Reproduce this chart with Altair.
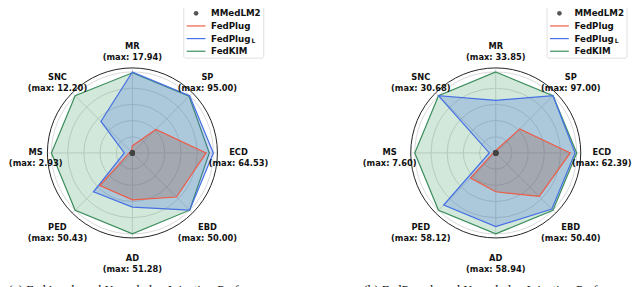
import altair as alt
import pandas as pd

# ---------------- data ----------------
axis_names = ["MR", "SP", "ECD", "EBD", "AD", "PED", "MS", "SNC"]
max_a = ["17.94", "95.00", "64.53", "50.00", "51.28", "50.43", "2.93", "12.20"]
max_b = ["33.85", "97.00", "62.39", "50.40", "58.94", "58.12", "7.60", "30.68"]

series_names = ["MMedLM2", "FedPlug", "FedPlug_L", "FedKIM"]

# normalised scores (value / max)
a_mmedlm2 = [0.0, 0.0, 0.0, 0.0, 0.0, 0.0, 0.0, 0.0]
a_fedplug = [0.09, 0.41, 0.91, 0.77, 0.58, 0.57, 0.04, 0.02]
a_fedplug_l = [1.0, 1.0, 1.0, 1.0, 0.67, 0.68, 0.10, 0.55]
a_fedkim = [0.99, 0.99, 0.95, 1.0, 1.0, 1.0, 1.0, 1.0]

b_mmedlm2 = [0.0, 0.0, 0.0, 0.0, 0.0, 0.0, 0.0, 0.0]
b_fedplug = [0.03, 0.42, 0.92, 0.76, 0.48, 0.44, 0.03, 0.02]
b_fedplug_l = [0.65, 1.0, 0.98, 0.98, 0.91, 0.91, 0.08, 1.0]
b_fedkim = [1.0, 1.0, 1.0, 1.0, 1.0, 1.0, 1.0, 1.0]

captions = ["(a) FedAvg-based Knowledge Injection Performance",
            "(b) FedProx-based Knowledge Injection Performance"]

# ---------------- layout ----------------
U = 82.0            # pixels per unit radius
W, H = 632, 279
CX0, CY0 = 126.0, 145.0
DX = 368.0
xmin = -CX0 / U
xmax = xmin + W / U
ymax = CY0 / U
ymin = ymax - H / U
panel_cx = {"a": 0.0, "b": DX / U}

XS = alt.Scale(domain=[xmin, xmax], nice=False, zero=False)
YS = alt.Scale(domain=[ymin, ymax], nice=False, zero=False)

def px(dx):
    return dx / U

line_col = {"FedPlug": "#EE5B46", "FedPlug_L": "#4670E4", "FedKIM": "#3A8D5C"}
fill_col = {"FedPlug": "#8A4632", "FedPlug_L": "#4169E1", "FedKIM": "#3A9A5E"}
fill_op = {"FedPlug": 0.25, "FedPlug_L": 0.25, "FedKIM": 0.23}

# ---------------- tables ----------------
vals = {
    "a": {"MMedLM2": a_mmedlm2, "FedPlug": a_fedplug, "FedPlug_L": a_fedplug_l, "FedKIM": a_fedkim},
    "b": {"MMedLM2": b_mmedlm2, "FedPlug": b_fedplug, "FedPlug_L": b_fedplug_l, "FedKIM": b_fedkim},
}
rows = []
for p in ["a", "b"]:
    for s in series_names:
        for i, v in enumerate(vals[p][s]):
            rows.append({"panel": p, "series": s, "i": i, "value": v, "cx": panel_cx[p]})
poly = pd.DataFrame(rows)

lab_rows = []
for p, mx in [("a", max_a), ("b", max_b)]:
    for i, (n, m) in enumerate(zip(axis_names, mx)):
        nudge = 9.5 if (p == "a" and n == "MS") else 0.0   # keep the left-most label inside the page
        lab_rows.append({"panel": p, "i": i, "cx": panel_cx[p] + nudge / U,
                         "text": f"{n}\n(max: {m})"})
labels = pd.DataFrame(lab_rows)

spokes = pd.DataFrame([{"panel": p, "i": i, "cx": panel_cx[p]} for p in ["a", "b"] for i in range(8)])
rings = pd.DataFrame([{"panel": p, "r": r, "cx": panel_cx[p]} for p in ["a", "b"] for r in [0.2, 0.4, 0.6, 0.8, 1.0]])
outer = pd.DataFrame([{"panel": p, "r": 1.05, "cx": panel_cx[p]} for p in ["a", "b"]])

polar = dict(ang="datum.i*PI/4",
             x="datum.cx + datum.value*sin(datum.ang)",
             y="datum.value*cos(datum.ang)")

X = alt.X("x:Q", scale=XS, axis=None)
Y = alt.Y("y:Q", scale=YS, axis=None)

layers = []

# grid rings
ring_layer = alt.Chart(rings).transform_calculate(
    x="datum.cx", y="0", size=f"pow(2*datum.r*{U}, 2)"
).mark_point(shape="circle", filled=False, stroke="#cfcfcf", strokeWidth=0.8, opacity=1).encode(
    x=X, y=Y, size=alt.Size("size:Q", scale=None))
layers.append(ring_layer)

spoke_layer = alt.Chart(spokes).transform_calculate(
    ang="datum.i*PI/4", x="datum.cx", y="0",
    x2="datum.cx + 1.05*sin(datum.ang)", y2="1.05*cos(datum.ang)"
).mark_rule(stroke="#cfcfcf", strokeWidth=0.8).encode(x=X, y=Y, x2="x2:Q", y2="y2:Q")
layers.append(spoke_layer)

outer_layer = alt.Chart(outer).transform_calculate(
    x="datum.cx", y="0", size=f"pow(2*datum.r*{U}, 2)"
).mark_point(shape="circle", filled=False, stroke="#222222", strokeWidth=1.0, opacity=1).encode(
    x=X, y=Y, size=alt.Size("size:Q", scale=None))
layers.append(outer_layer)

for s in ["FedKIM", "FedPlug_L", "FedPlug"]:
    base = alt.Chart(poly).transform_filter(alt.datum.series == s).transform_calculate(**polar)
    lay = base.mark_line(interpolate="linear-closed", stroke=line_col[s], strokeWidth=1.2,
                         fill=fill_col[s], fillOpacity=fill_op[s]).encode(
        x=X, y=Y, detail="panel:N", order="i:Q")
    layers.append(lay)

mmed = alt.Chart(poly).transform_filter(alt.datum.series == "MMedLM2").transform_calculate(**polar).mark_point(
    filled=True, color="#444444", size=28, opacity=0.9).encode(x=X, y=Y)
layers.append(mmed)

lab_layer = alt.Chart(labels).transform_calculate(
    ang="datum.i*PI/4", x="datum.cx + 1.31*sin(datum.ang)", y="1.31*cos(datum.ang)"
).mark_text(font="DejaVu Sans", fontWeight="bold", fontSize=8.4, lineBreak="\n", lineHeight=11,
            align="center", baseline="middle", color="#111111", dy=-1).encode(
    x=X, y=Y, text="text:N")
layers.append(lab_layer)

# ---------------- legends ----------------
leg_rows = []
for p in ["a", "b"]:
    for k, s in enumerate(series_names):
        leg_rows.append({"panel": p, "series": s, "k": k, "cx": panel_cx[p]})
leg = pd.DataFrame(leg_rows)
ROW0, ROWH = 3.6, 12.8   # canvas px of first legend row, row spacing

box = pd.DataFrame([{"panel": p, "cx": panel_cx[p]} for p in ["a", "b"]])
box_layer = alt.Chart(box).transform_calculate(
    x=f"datum.cx + {px(186-134)}", x2=f"datum.cx + {px(267-134)}",
    y=f"{ymax} + {px(9)}", y2=f"{ymax} - {px(49)}"
).mark_rect(fill="white", fillOpacity=0.85, stroke="#d8d8d8", strokeWidth=0.8, cornerRadius=2).encode(
    x=X, y=Y, x2="x2:Q", y2="y2:Q")
layers.append(box_layer)

leg_calc = dict(y=f"{ymax} - ({ROW0} + datum.k*{ROWH})/{U}")
for s in ["FedPlug", "FedPlug_L", "FedKIM"]:
    l = alt.Chart(leg).transform_filter(alt.datum.series == s).transform_calculate(
        x=f"datum.cx + {px(189-134)}", x2=f"datum.cx + {px(208-134)}", **leg_calc
    ).mark_rule(stroke=line_col[s], strokeWidth=1.2).encode(x=X, y=Y, x2="x2:Q")
    layers.append(l)
dot = alt.Chart(leg).transform_filter(alt.datum.series == "MMedLM2").transform_calculate(
    x=f"datum.cx + {px(198.5-134)}", **leg_calc
).mark_point(filled=True, color="#444444", size=22, opacity=0.9).encode(x=X, y=Y)
layers.append(dot)

leg_text = alt.Chart(leg).transform_calculate(
    x=f"datum.cx + {px(213.7-134)}", **leg_calc,
    t="datum.series == 'FedPlug_L' ? 'FedPlug' : datum.series"
).mark_text(font="DejaVu Sans", fontWeight="bold", fontSize=8.8, align="left", baseline="middle",
            color="#111111").encode(x=X, y=Y, text="t:N")
layers.append(leg_text)

sub_text = alt.Chart(leg).transform_filter(alt.datum.series == "FedPlug_L").transform_calculate(
    x=f"datum.cx + {px(254.5-134)}", **leg_calc, t="'L'"
).mark_text(font="DejaVu Sans", fontWeight="bold", fontSize=6.2, align="left", baseline="middle",
            color="#111111", dy=2.5).encode(x=X, y=Y, text="t:N")
layers.append(sub_text)

# ---------------- captions ----------------
cap = pd.DataFrame({"panel": ["a", "b"],
                    "x0": [panel_cx["a"] - px(125.5), panel_cx["b"] - px(134)],
                    "text": captions})
cap_layer = alt.Chart(cap).transform_calculate(
    x="datum.x0", y=f"{ymax} - {287.5/U}"
).mark_text(font="Liberation Serif", fontSize=13.2, align="left", baseline="alphabetic",
            color="#111111").encode(x=X, y=Y, text="text:N")
layers.append(cap_layer)

chart = alt.layer(*layers).properties(
    width=W, height=H, padding=0, autosize=alt.AutoSizeParams(type="none")
).configure_view(stroke=None)

chart.save("out.html", embed_options={"renderer": "svg", "actions": False})
